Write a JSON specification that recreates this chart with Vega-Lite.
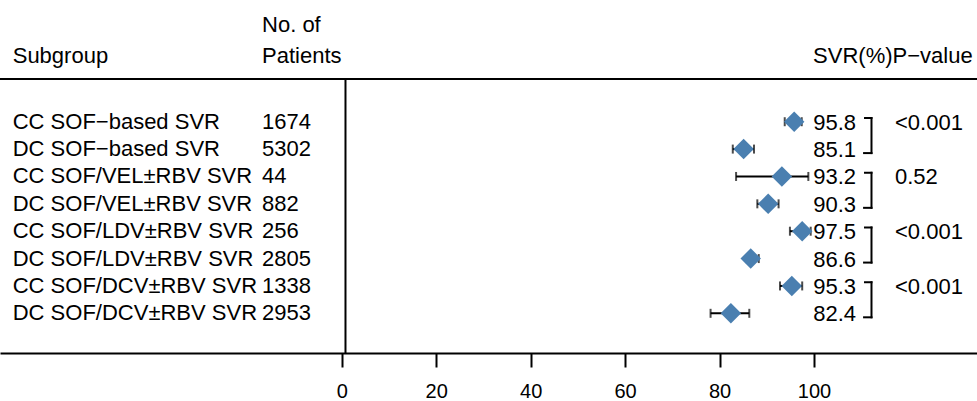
{
  "$schema": "https://vega.github.io/schema/vega-lite/v6.json",
  "width": 977,
  "height": 353,
  "autosize": "none",
  "padding": {"left": 0, "top": 0, "right": 0, "bottom": 48},
  "background": "white",
  "config": {
    "view": {"stroke": null},
    "font": "Liberation Sans",
    "text": {"font": "Liberation Sans", "fontSize": 22, "color": "black"},
    "axisX": {"title": "", "grid": false, "tickSize": 14, "tickWidth": 2, "tickColor": "black", "domainColor": "black", "domainWidth": 2, "labelFontSize": 20, "labelColor": "black", "labelPadding": 14, "labelFlush": false, "labelFont": "Liberation Sans"}
  },
  "datasets": {
    "rows": [
      {"row": 1, "subgroup": "CC SOF\u2212based SVR", "n": "1674", "svr": 95.8, "lo": 93.8, "hi": 97.4},
      {"row": 2, "subgroup": "DC SOF\u2212based SVR", "n": "5302", "svr": 85.1, "lo": 82.8, "hi": 87.3},
      {"row": 3, "subgroup": "CC SOF/VEL\u00b1RBV SVR", "n": "44", "svr": 93.2, "lo": 83.5, "hi": 98.8},
      {"row": 4, "subgroup": "DC SOF/VEL\u00b1RBV SVR", "n": "882", "svr": 90.3, "lo": 88.0, "hi": 92.5},
      {"row": 5, "subgroup": "CC SOF/LDV\u00b1RBV SVR", "n": "256", "svr": 97.5, "lo": 94.9, "hi": 99.3},
      {"row": 6, "subgroup": "DC SOF/LDV\u00b1RBV SVR", "n": "2805", "svr": 86.6, "lo": 85.6, "hi": 88.3},
      {"row": 7, "subgroup": "CC SOF/DCV\u00b1RBV SVR", "n": "1338", "svr": 95.3, "lo": 92.8, "hi": 97.5},
      {"row": 8, "subgroup": "DC SOF/DCV\u00b1RBV SVR", "n": "2953", "svr": 82.4, "lo": 78.1, "hi": 86.3}
    ],
    "pairs": [
      {"top": 1, "bottom": 2, "p": "<0.001"},
      {"top": 3, "bottom": 4, "p": "0.52"},
      {"top": 5, "bottom": 6, "p": "<0.001"},
      {"top": 7, "bottom": 8, "p": "<0.001"}
    ]
  },
  "layer": [
    {
      "data": {"name": "rows"},
      "mark": {"type": "rule", "color": "black", "strokeWidth": 2},
      "encoding": {
        "x": {"field": "lo", "type": "quantitative", "title": "", "scale": {"domain": [-72.35, 134.51], "nice": false, "zero": false}, "axis": {"values": [0, 20, 40, 60, 80, 100], "title": ""}},
        "x2": {"field": "hi"},
        "y": {"field": "row", "type": "quantitative", "scale": {"domain": [-3.447, 9.45], "nice": false, "zero": false, "reverse": true}, "axis": null}
      }
    },
    {
      "data": {"name": "rows"},
      "mark": {"type": "tick", "orient": "vertical", "color": "black", "size": 9, "thickness": 2},
      "encoding": {
        "x": {"field": "lo", "type": "quantitative", "title": "", "scale": {"domain": [-72.35, 134.51], "nice": false, "zero": false}},
        "y": {"field": "row", "type": "quantitative", "scale": {"domain": [-3.447, 9.45], "nice": false, "zero": false, "reverse": true}, "axis": null}
      }
    },
    {
      "data": {"name": "rows"},
      "mark": {"type": "tick", "orient": "vertical", "color": "black", "size": 9, "thickness": 2},
      "encoding": {
        "x": {"field": "hi", "type": "quantitative", "title": "", "scale": {"domain": [-72.35, 134.51], "nice": false, "zero": false}},
        "y": {"field": "row", "type": "quantitative", "scale": {"domain": [-3.447, 9.45], "nice": false, "zero": false, "reverse": true}, "axis": null}
      }
    },
    {
      "data": {"name": "rows"},
      "mark": {"type": "point", "shape": "diamond", "filled": true, "size": 420, "color": "#4a7fb0", "opacity": 1},
      "encoding": {
        "x": {"field": "svr", "type": "quantitative", "title": "", "scale": {"domain": [-72.35, 134.51], "nice": false, "zero": false}},
        "y": {"field": "row", "type": "quantitative", "scale": {"domain": [-3.447, 9.45], "nice": false, "zero": false, "reverse": true}, "axis": null}
      }
    },
    {
      "data": {"name": "rows"},
      "mark": {"type": "text", "align": "left", "baseline": "alphabetic", "dy": 7},
      "encoding": {
        "x": {"datum": -69.66, "type": "quantitative", "title": "", "scale": {"domain": [-72.35, 134.51], "nice": false, "zero": false}},
        "y": {"field": "row", "type": "quantitative", "scale": {"domain": [-3.447, 9.45], "nice": false, "zero": false, "reverse": true}, "axis": null},
        "text": {"field": "subgroup"}
      }
    },
    {
      "data": {"name": "rows"},
      "mark": {"type": "text", "align": "left", "baseline": "alphabetic", "dy": 7},
      "encoding": {
        "x": {"datum": -16.87, "type": "quantitative", "title": "", "scale": {"domain": [-72.35, 134.51], "nice": false, "zero": false}},
        "y": {"field": "row", "type": "quantitative", "scale": {"domain": [-3.447, 9.45], "nice": false, "zero": false, "reverse": true}, "axis": null},
        "text": {"field": "n"}
      }
    },
    {
      "data": {"name": "rows"},
      "mark": {"type": "text", "align": "right", "baseline": "alphabetic", "dy": 8},
      "encoding": {
        "x": {"datum": 108.9, "type": "quantitative", "title": "", "scale": {"domain": [-72.35, 134.51], "nice": false, "zero": false}},
        "y": {"field": "row", "type": "quantitative", "scale": {"domain": [-3.447, 9.45], "nice": false, "zero": false, "reverse": true}, "axis": null},
        "text": {"field": "svr", "type": "quantitative", "format": ".1f"}
      }
    },
    {
      "data": {"name": "pairs"},
      "mark": {"type": "rule", "color": "black", "strokeWidth": 2, "yOffset": -3.7, "y2Offset": 4, "strokeCap": "square"},
      "encoding": {
        "x": {"datum": 112.17, "type": "quantitative", "title": "", "scale": {"domain": [-72.35, 134.51], "nice": false, "zero": false}},
        "y": {"field": "top", "type": "quantitative", "scale": {"domain": [-3.447, 9.45], "nice": false, "zero": false, "reverse": true}, "axis": null},
        "y2": {"field": "bottom"}
      }
    },
    {
      "data": {"name": "pairs"},
      "mark": {"type": "rule", "color": "black", "strokeWidth": 2, "yOffset": -3.7, "strokeCap": "square"},
      "encoding": {
        "x": {"datum": 110.8, "type": "quantitative", "title": "", "scale": {"domain": [-72.35, 134.51], "nice": false, "zero": false}},
        "x2": {"datum": 112.17},
        "y": {"field": "top", "type": "quantitative", "scale": {"domain": [-3.447, 9.45], "nice": false, "zero": false, "reverse": true}, "axis": null}
      }
    },
    {
      "data": {"name": "pairs"},
      "mark": {"type": "rule", "color": "black", "strokeWidth": 2, "yOffset": 4, "strokeCap": "square"},
      "encoding": {
        "x": {"datum": 110.6, "type": "quantitative", "title": "", "scale": {"domain": [-72.35, 134.51], "nice": false, "zero": false}},
        "x2": {"datum": 112.17},
        "y": {"field": "bottom", "type": "quantitative", "scale": {"domain": [-3.447, 9.45], "nice": false, "zero": false, "reverse": true}, "axis": null}
      }
    },
    {
      "data": {"name": "pairs"},
      "mark": {"type": "text", "align": "left", "baseline": "alphabetic", "dy": 8},
      "encoding": {
        "x": {"datum": 117.15, "type": "quantitative", "title": "", "scale": {"domain": [-72.35, 134.51], "nice": false, "zero": false}},
        "y": {"field": "top", "type": "quantitative", "scale": {"domain": [-3.447, 9.45], "nice": false, "zero": false, "reverse": true}, "axis": null},
        "text": {"field": "p"}
      }
    },
    {
      "data": {"values": [{}]},
      "mark": {"type": "rule", "color": "black", "strokeWidth": 2},
      "encoding": {
        "y": {"datum": -0.56, "type": "quantitative", "scale": {"domain": [-3.447, 9.45], "nice": false, "zero": false, "reverse": true}, "axis": null}
      }
    },
    {
      "data": {"values": [{}]},
      "mark": {"type": "rule", "color": "black", "strokeWidth": 2},
      "encoding": {
        "x": {"datum": 0.8, "type": "quantitative", "title": "", "scale": {"domain": [-72.35, 134.51], "nice": false, "zero": false}},
        "y": {"datum": -0.56, "type": "quantitative", "scale": {"domain": [-3.447, 9.45], "nice": false, "zero": false, "reverse": true}, "axis": null},
        "y2": {"datum": 9.45}
      }
    },
    {
      "data": {"values": [{}]},
      "mark": {"type": "text", "align": "left", "baseline": "alphabetic", "text": "Subgroup"},
      "encoding": {
        "x": {"datum": -69.66, "type": "quantitative", "title": "", "scale": {"domain": [-72.35, 134.51], "nice": false, "zero": false}},
        "y": {"datum": -1.134, "type": "quantitative", "scale": {"domain": [-3.447, 9.45], "nice": false, "zero": false, "reverse": true}, "axis": null}
      }
    },
    {
      "data": {"values": [{}]},
      "mark": {"type": "text", "align": "left", "baseline": "alphabetic", "text": "No. of"},
      "encoding": {
        "x": {"datum": -16.87, "type": "quantitative", "title": "", "scale": {"domain": [-72.35, 134.51], "nice": false, "zero": false}},
        "y": {"datum": -2.288, "type": "quantitative", "scale": {"domain": [-3.447, 9.45], "nice": false, "zero": false, "reverse": true}, "axis": null}
      }
    },
    {
      "data": {"values": [{}]},
      "mark": {"type": "text", "align": "left", "baseline": "alphabetic", "text": "Patients"},
      "encoding": {
        "x": {"datum": -16.87, "type": "quantitative", "title": "", "scale": {"domain": [-72.35, 134.51], "nice": false, "zero": false}},
        "y": {"datum": -1.134, "type": "quantitative", "scale": {"domain": [-3.447, 9.45], "nice": false, "zero": false, "reverse": true}, "axis": null}
      }
    },
    {
      "data": {"values": [{}]},
      "mark": {"type": "text", "align": "right", "baseline": "alphabetic", "text": "SVR(%)P\u2212value"},
      "encoding": {
        "x": {"datum": 133.6, "type": "quantitative", "title": "", "scale": {"domain": [-72.35, 134.51], "nice": false, "zero": false}},
        "y": {"datum": -1.134, "type": "quantitative", "scale": {"domain": [-3.447, 9.45], "nice": false, "zero": false, "reverse": true}, "axis": null}
      }
    }
  ]
}
